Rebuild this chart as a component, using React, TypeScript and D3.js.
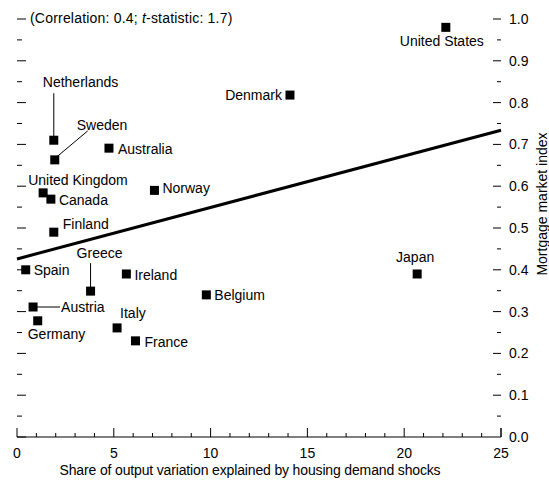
import React from "react";
import * as d3 from "d3";

const countries = ["United States","Denmark","Netherlands","Sweden","Australia","United Kingdom","Canada","Norway","Finland","Spain","Greece","Ireland","Belgium","Austria","Germany","Italy","France","Japan"];
const shareValues = [22.15,14.1,1.9,1.95,4.75,1.35,1.75,7.1,1.9,0.45,3.8,5.65,9.78,0.83,1.07,5.17,6.12,20.67];
const mortgageIndex = [0.98,0.818,0.71,0.663,0.691,0.584,0.569,0.59,0.49,0.40,0.349,0.39,0.34,0.311,0.278,0.261,0.23,0.39];
const xTicks = [0,5,10,15,20,25];
const yTicks = [0,0.1,0.2,0.3,0.4,0.5,0.6,0.7,0.8,0.9,1.0];
const fitLine = [[0,0.426],[25,0.734]];

// label placement (style): anchor, dx, dy, optional leader line
type Lab = { a: "start"|"middle"|"end"; dx: number; dy: number; leader?: [number,number,number,number] };
const labelPlacement: Record<string, Lab> = {
  "United States": { a: "middle", dx: -4, dy: 19 },
  "Denmark": { a: "end", dx: -8, dy: 5 },
  "Netherlands": { a: "start", dx: -11, dy: -53, leader: [0,-47,0,-4] },
  "Sweden": { a: "start", dx: 22, dy: -30, leader: [33,-29,2,-3] },
  "Australia": { a: "start", dx: 9, dy: 6 },
  "United Kingdom": { a: "start", dx: -15, dy: -8 },
  "Canada": { a: "start", dx: 8, dy: 6 },
  "Norway": { a: "start", dx: 8, dy: 3 },
  "Finland": { a: "start", dx: 9, dy: -3 },
  "Spain": { a: "start", dx: 8, dy: 5 },
  "Greece": { a: "middle", dx: 9, dy: -33, leader: [0,-28,0,-4] },
  "Ireland": { a: "start", dx: 8, dy: 6 },
  "Belgium": { a: "start", dx: 8, dy: 5 },
  "Austria": { a: "start", dx: 28, dy: 5, leader: [4,0,27,0] },
  "Germany": { a: "start", dx: -10, dy: 18 },
  "Italy": { a: "start", dx: 3, dy: -10 },
  "France": { a: "start", dx: 9, dy: 6 },
  "Japan": { a: "middle", dx: -2, dy: -12 },
};

export default function App() {
  const W = 549, H = 480;
  const x = d3.scaleLinear().domain([0, 25]).range([17, 501]);
  const y = d3.scaleLinear().domain([0, 1]).range([437, 19]);
  const font = "'Liberation Sans', Arial, sans-serif";
  const fs = 14;
  const minorX = d3.range(0, 26, 1).filter((v) => v % 5 !== 0);
  const minorY = d3.range(0.05, 1.0, 0.1);
  const line = d3.line<number[]>().x((d) => x(d[0])).y((d) => y(d[1]));
  const sq = 9;
  return (
    <svg width={W} height={H} style={{ position: "absolute", left: 0, top: 0, background: "#fff" }} fontFamily={font} fontSize={fs}>
      {/* x axis */}
      <line x1={x(0)} x2={x(25)} y1={y(0)} y2={y(0)} stroke="#000" strokeWidth={1} />
      {xTicks.map((t) => (
        <g key={"xt" + t}>
          <line x1={x(t)} x2={x(t)} y1={y(0)} y2={y(0) - 9} stroke="#000" />
          <text x={x(t)} y={458} textAnchor="middle">{t}</text>
        </g>
      ))}
      {minorX.map((t) => (
        <line key={"xm" + t} x1={x(t)} x2={x(t)} y1={y(0)} y2={y(0) - 4} stroke="#000" />
      ))}
      {/* y ticks left and right */}
      {yTicks.map((t) => (
        <g key={"yt" + t}>
          <line x1={x(0)} x2={x(0) + 9} y1={y(t)} y2={y(t)} stroke="#000" />
          {t > 0 && <line x1={x(25) - 8} x2={x(25)} y1={y(t)} y2={y(t)} stroke="#000" />}
          <text x={509} y={y(t)} dy="0.36em">{t.toFixed(1)}</text>
        </g>
      ))}
      {minorY.map((t) => (
        <g key={"ym" + t}>
          <line x1={x(0)} x2={x(0) + 5} y1={y(t)} y2={y(t)} stroke="#000" />
          <line x1={x(25) - 4} x2={x(25)} y1={y(t)} y2={y(t)} stroke="#000" />
        </g>
      ))}
      <line x1={x(25)} x2={x(25)} y1={y(0)} y2={y(0) - 9} stroke="#000" />
      {/* fit line */}
      <path d={line(fitLine) || ""} stroke="#000" strokeWidth={3} fill="none" />
      {/* points */}
      {countries.map((c, i) => {
        const cx = x(shareValues[i]);
        const cy = y(mortgageIndex[i]);
        const p = labelPlacement[c];
        return (
          <g key={c}>
            {p.leader && (
              <line x1={cx + p.leader[0]} y1={cy + p.leader[1]} x2={cx + p.leader[2]} y2={cy + p.leader[3]} stroke="#000" strokeWidth={1} />
            )}
            <rect x={cx - sq / 2} y={cy - sq / 2} width={sq} height={sq} fill="#000" />
            <text x={cx + p.dx} y={cy + p.dy} textAnchor={p.a}>{c}</text>
          </g>
        );
      })}
      {/* annotation */}
      <text x={30} y={23} letterSpacing={0.2}>
        (Correlation: 0.4; <tspan fontStyle="italic">t</tspan>-statistic: 1.7)
      </text>
      {/* axis titles */}
      <text x={250} y={475} textAnchor="middle" letterSpacing={-0.15}>Share of output variation explained by housing demand shocks</text>
      <text transform={`translate(542,204) rotate(-90)`} textAnchor="middle" dy="0.36em">Mortgage market index</text>
    </svg>
  );
}
